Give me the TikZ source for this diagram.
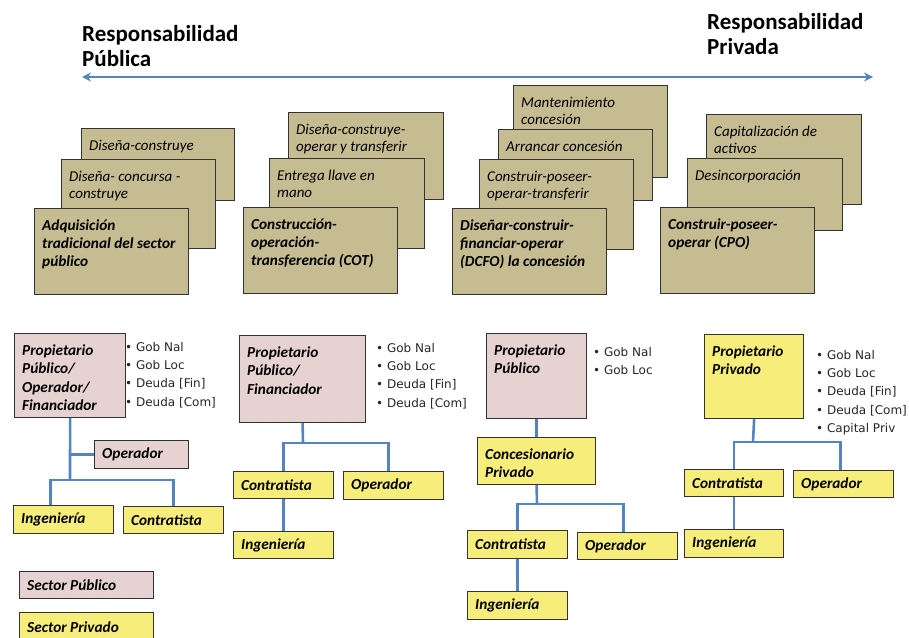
\documentclass[tikz,border=0pt]{standalone}
\usepackage{fontspec}
\setmainfont{Carlito}
\newfontfamily\bulfont{DejaVu Sans}
\usetikzlibrary{arrows.meta, positioning}

\definecolor{cardtan}{RGB}{197,188,145}
\definecolor{pubpink}{RGB}{231,210,210}
\definecolor{privyel}{RGB}{247,237,122}
\definecolor{linkblue}{RGB}{84,132,192}

\begin{document}
\begin{tikzpicture}[
  x=1pt, y=-1pt,
  card/.style={draw=black!80, line width=1.2pt, fill=cardtan, inner sep=0pt, anchor=north west},
  cardtxt/.style={anchor=north west, align=left, inner xsep=8pt, inner ysep=11.5pt,
    font=\fontsize{15}{17.5}\selectfont\itshape},
  cardmain/.style={cardtxt, font=\fontsize{15.3}{18}\selectfont\bfseries\itshape},
  pub/.style={draw=black!80, line width=1.2pt, fill=pubpink, inner sep=0pt, anchor=north west},
  priv/.style={pub, fill=privyel},
  boxtxt/.style={anchor=north west, align=left, inner xsep=8pt, inner ysep=11.5pt,
    font=\fontsize{15.3}{18.5}\selectfont\bfseries\itshape},
  bul/.style={anchor=north west, align=left, inner sep=0pt, text=black!85,
    font=\bulfont\fontsize{12}{18.3}\selectfont},
  link/.style={draw=linkblue, line width=2.6pt},
  resp/.style={draw=linkblue, line width=2.4pt, {Stealth[length=9pt,width=9pt]}-{Stealth[length=9pt,width=9pt]}}
  ]
    \useasboundingbox (0,0) rectangle (909,637);

    % header
    \node[anchor=north west, align=left, inner sep=0pt, font=\fontsize{23}{25}\selectfont\bfseries]
      (hpub) at (82,25) {Responsabilidad\\Pública};
    \node[anchor=north west, align=left, inner sep=0pt, font=\fontsize{23}{25}\selectfont\bfseries]
      (hpriv) at (707,13) {Responsabilidad\\Privada};
    \coordinate (pubend) at (82,77);
    \coordinate (privend) at (873,77);
    \draw[resp] (pubend) -- (privend);

%%%%%%%%%%  cards
% grupo uno
\node[card, minimum width=153pt, minimum height=72pt] (dcA) at (81,128) {};
\node[cardtxt] (dcAt) at (dcA.north west) {Diseña-construye};
\node[card, minimum width=154pt, minimum height=89pt] (dccA) at (61,159) {};
\node[cardtxt] (dccAt) at (dccA.north west) {Diseña- concursa -\\construye};
\node[card, minimum width=154pt, minimum height=86pt] (atA) at (34,208) {};
\node[cardmain] (atAt) at (atA.north west) {Adquisición\\tradicional del sector\\público};

% grupo dos
\node[card, minimum width=155pt, minimum height=87pt] (dcotB) at (288,112) {};
\node[cardtxt] (dcotBt) at (dcotB.north west) {Diseña-construye-\\operar y transferir};
\node[card, minimum width=155pt, minimum height=90pt] (llaveB) at (269,158) {};
\node[cardtxt] (llaveBt) at (llaveB.north west) {Entrega llave en\\mano};
\node[card, minimum width=154pt, minimum height=86pt] (cotB) at (243,207) {};
\node[cardmain] (cotBt) at (cotB.north west) {Construcción-\\operación-\\transferencia (COT)};

% grupo tres
\node[card, minimum width=154pt, minimum height=92pt] (mantC) at (513,85) {};
\node[cardtxt] (mantCt) at (mantC.north west) {Mantenimiento\\concesión};
\node[card, minimum width=154pt, minimum height=71pt] (arrC) at (498,129) {};
\node[cardtxt] (arrCt) at (arrC.north west) {Arrancar concesión};
\node[card, minimum width=154pt, minimum height=90pt] (cpotC) at (479,159) {};
\node[cardtxt] (cpotCt) at (cpotC.north west) {Construir-poseer-\\operar-transferir};
\node[card, minimum width=154pt, minimum height=86pt] (dcfoC) at (452,208) {};
\node[cardmain] (dcfoCt) at (dcfoC.north west) {Diseñar-construir-\\financiar-operar\\(DCFO) la concesión};

% grupo cuatro
\node[card, minimum width=155pt, minimum height=90pt] (capD) at (706,114) {};
\node[cardtxt] (capDt) at (capD.north west) {Capitalización de\\activos};
\node[card, minimum width=155pt, minimum height=72pt] (desD) at (687,158) {};
\node[cardtxt] (desDt) at (desD.north west) {Desincorporación};
\node[card, minimum width=154pt, minimum height=86pt] (cpoD) at (660,207) {};
\node[cardmain] (cpoDt) at (cpoD.north west) {Construir-poseer-\\operar (CPO)};

%%%%%%%%%%  organigramas
% uno
\node[pub, minimum width=111pt, minimum height=84pt] (propA) at (14,333) {};
\node[boxtxt] (propAt) at (propA.north west) {Propietario\\Público/\\Operador/\\Financiador};
\node[bul] (bulA) at (125,342) {• Gob Nal\\• Gob Loc\\• Deuda [Fin]\\• Deuda [Com]};
\node[pub, minimum width=94pt, minimum height=28pt] (opA) at (94,440) {};
\node[boxtxt, anchor=west] (opAt) at (opA.west) {Operador};
\node[priv, minimum width=100pt, minimum height=28pt] (ingA) at (13,505) {};
\node[boxtxt, anchor=west] (ingAt) at (ingA.west) {Ingeniería};
\node[priv, minimum width=100pt, minimum height=27pt] (conA) at (123,506) {};
\node[boxtxt, anchor=west] (conAt) at (conA.west) {Contratista};

\coordinate (jA) at (70,480);
\draw[link] (propA.south) -- (jA);
\draw[link] (opA.west) -- (opA.west -| propA.south);
\draw[link] ([xshift=-13pt]ingA.north) |- (jA) -| (conA.north);

% dos
\node[pub, minimum width=126pt, minimum height=87pt] (propB) at (239,335) {};
\node[boxtxt] (propBt) at (propB.north west) {Propietario\\Público/\\Financiador};
\node[bul] (bulB) at (376,343) {• Gob Nal\\• Gob Loc\\• Deuda [Fin]\\• Deuda [Com]};
\node[priv, minimum width=100pt, minimum height=27pt] (conB) at (233,471) {};
\node[boxtxt, anchor=west] (conBt) at (conB.west) {Contratista};
\node[priv, minimum width=100pt, minimum height=28pt] (opB) at (343,471) {};
\node[boxtxt, anchor=west] (opBt) at (opB.west) {Operador};
\node[priv, minimum width=100pt, minimum height=27pt] (ingB) at (233,531) {};
\node[boxtxt, anchor=west] (ingBt) at (ingB.west) {Ingeniería};

\coordinate (jB) at (303,443);
\draw[link] (propB.south) -- (jB);
\draw[link] (conB.north) |- (jB) -| ([xshift=-5pt]opB.north);
\draw[link] (conB.south) -- (ingB.north);

% tres
\node[pub, minimum width=100pt, minimum height=85pt] (propC) at (486,333) {};
\node[boxtxt] (propCt) at (propC.north west) {Propietario\\Público};
\node[bul] (bulC) at (593,347) {• Gob Nal\\• Gob Loc};
\node[priv, minimum width=118pt, minimum height=47pt] (concC) at (477,437) {};
\node[boxtxt] (concCt) at (concC.north west) {Concesionario\\Privado};
\node[priv, minimum width=100pt, minimum height=28pt] (conC) at (467,530) {};
\node[boxtxt, anchor=west] (conCt) at (conC.west) {Contratista};
\node[priv, minimum width=100pt, minimum height=27pt] (opC) at (577,532) {};
\node[boxtxt, anchor=west] (opCt) at (opC.west) {Operador};
\node[priv, minimum width=100pt, minimum height=28pt] (ingC) at (467,591) {};
\node[boxtxt, anchor=west] (ingCt) at (ingC.west) {Ingeniería};

\coordinate (jC) at (537,504);
\draw[link] (propC.south) -- (concC.north);
\draw[link] (concC.south) -- (jC);
\draw[link] (conC.north) |- (jC) -| ([xshift=-4pt]opC.north);
\draw[link] (conC.south) -- (ingC.north);

% cuatro
\node[priv, minimum width=99pt, minimum height=84pt] (propD) at (704,334) {};
\node[boxtxt] (propDt) at (propD.north west) {Propietario\\Privado};
\node[bul] (bulD) at (816,350) {• Gob Nal\\• Gob Loc\\• Deuda [Fin]\\• Deuda [Com]\\• Capital Priv};
\node[priv, minimum width=99pt, minimum height=27pt] (conD) at (684,469) {};
\node[boxtxt, anchor=west] (conDt) at (conD.west) {Contratista};
\node[priv, minimum width=100pt, minimum height=27pt] (opD) at (793,470) {};
\node[boxtxt, anchor=west] (opDt) at (opD.west) {Operador};
\node[priv, minimum width=99pt, minimum height=28pt] (ingD) at (684,529) {};
\node[boxtxt, anchor=west] (ingDt) at (ingD.west) {Ingeniería};

\coordinate (jD) at (753,442);
\draw[link] (propD.south) -- (jD);
\draw[link] (conD.north) |- (jD) -| ([xshift=-3pt]opD.north);
\draw[link] (conD.south) -- (ingD.north);

%legend
\node[pub, minimum width=134pt, minimum height=27pt] (secpub) at (19,571) {};
\node[boxtxt, anchor=west] (secpubt) at (secpub.west) {Sector Público};
\node[priv, minimum width=134pt, minimum height=30pt] (secpriv) at (19,612) {};
\node[boxtxt, anchor=west] (secprivt) at (secpriv.west) {Sector Privado};

\end{tikzpicture}
\end{document}
